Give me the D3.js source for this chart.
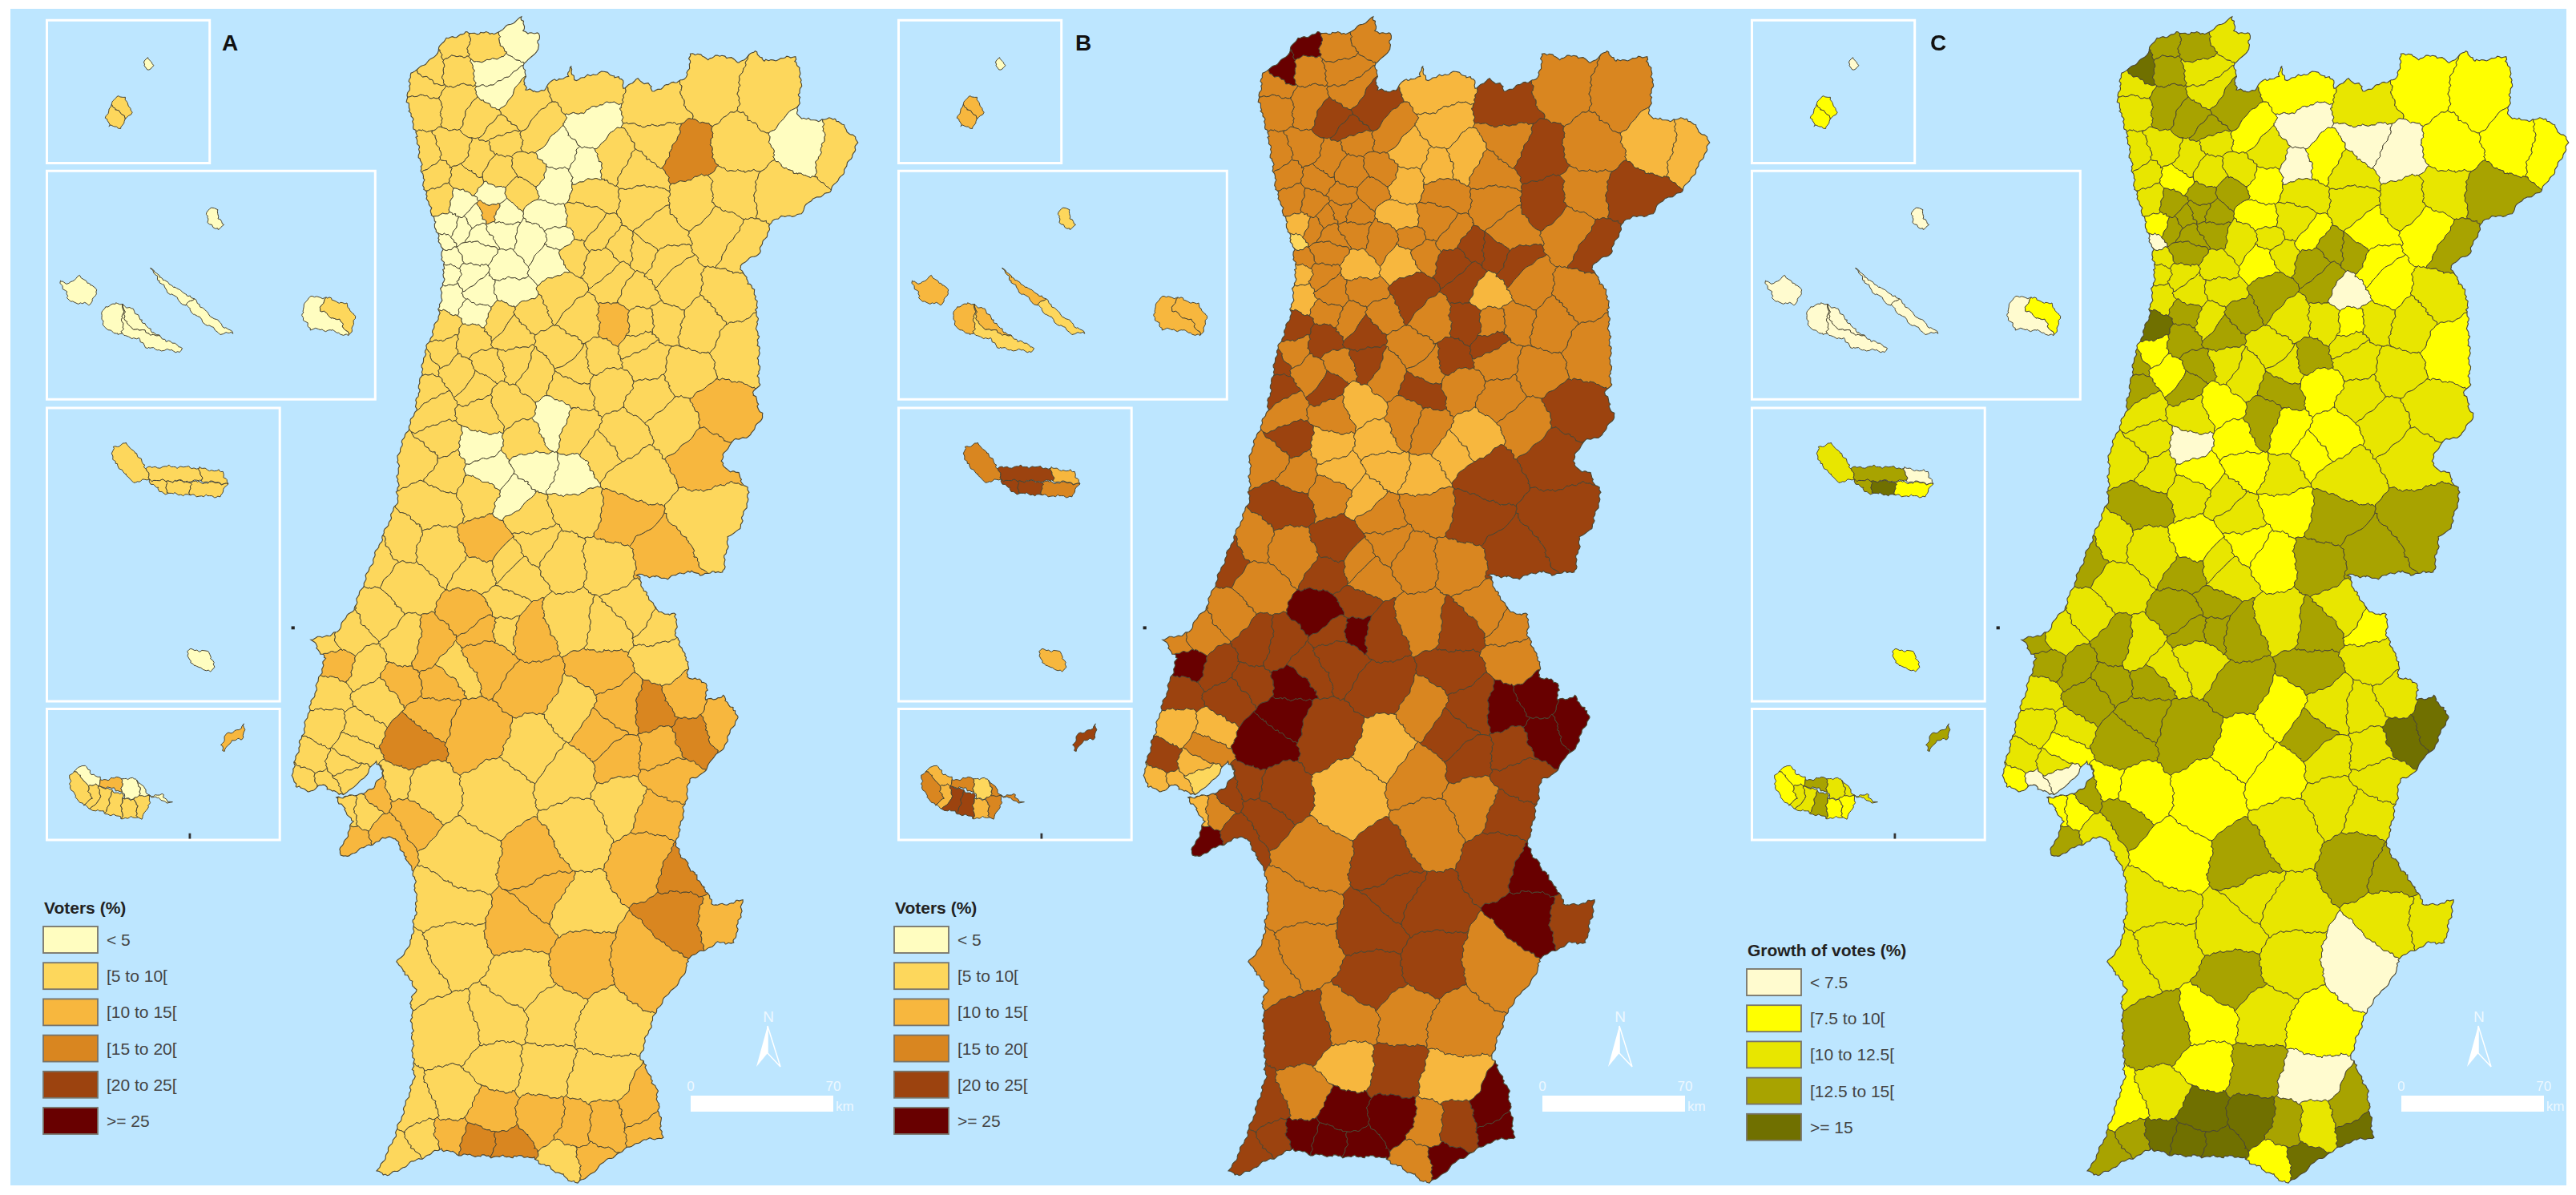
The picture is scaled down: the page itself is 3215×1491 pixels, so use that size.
<!DOCTYPE html>
<html>
<head>
<meta charset="utf-8">
<script src="https://d3js.org/d3.v7.min.js"></script>
<style>
  html, body { margin: 0; background: #fff; }
  svg { display: block; filter: blur(0.6px); }
  text { font-family: "Liberation Sans", Arial, sans-serif; }
</style>
</head>
<body>
<svg id="chart" width="3215" height="1491"></svg>
<script>
// legend classes
const voterBreaks = [5, 10, 15, 20, 25];
const voterLabels = ['< 5', '[5 to 10[', '[10 to 15[', '[15 to 20[', '[20 to 25[', '>= 25'];
const voterColors = ['#FFFDC0', '#FDD75C', '#F7B73E', '#D98620', '#9C430F', '#680000'];
const growthBreaks = [7.5, 10, 12.5, 15];
const growthLabels = ['< 7.5', '[7.5 to 10[', '[10 to 12.5[', '[12.5 to 15[', '>= 15'];
const growthColors = ['#FFFBCF', '#FFFF00', '#E8E600', '#A8A300', '#707000'];

// municipalities, north to south: map position of each seat and the three readings
const seatX = [
  935,880,822,785,830,765,885,900,
  825,770,880,945,900,1060,1070,1190,
  1290,1390,1455,1520,1340,1185,1250,1110,
  1015,975,910,870,815,770,960,905,850,790,795,1000,1060,
  1160,1160,1260,1325,1420,1300,1350,1195,1080,990,940,885,835,1060,860,915,885,
  810,805,840,910,870,860,810,960,1010,1090,1090,1130,1160,1200,920,1000,1040,
  810,850,820,870,930,860,1015,1110,1160,1230,1310,1340,1270,1200,1110,1160,1060,960,900,795,800,860,
  770,770,830,860,885,930,930,970,1010,1050,1090,1040,1100,1170,1160,1240,1180,1300,1275,1220,1125,1150,1130,1190,1285,
  860,885,1000,1050,925,870,790,760,800,810,960,975,1030,1090,930,870,790,720,690,880,960,970,1040,940,1020,1100,800,870,920,740,
  680,605,585,640,665,600,680,730,780,730,825,880,915,860,960,970,785,795,860,745,1100,1195,1150,1030,880,905,
  590,650,570,550,590,625,620,640,635,660,645,690,690,740,770,720,
  840,810,820,750,820,950,950,905,1000,980,905,1100,1050,1170,990,1040,970,1230,1310,1240,1170,1190,900,1050,975,1030,1090,1030,1120,1130,1250,1305,1240,1190,1200,1125,1090,1210,1200,
  755,725,770,820,815,860,890,925,985,1040,1030,1065,1100,1090,1160,1175
];
const seatY = [
  85,115,125,170,180,215,185,235,
  265,285,305,280,335,240,320,270,
  220,250,370,380,380,370,400,410,
  395,335,365,410,390,400,440,445,465,455,510,470,430,
  530,440,520,490,500,600,640,600,500,560,500,540,530,575,565,545,500,
  580,615,590,590,610,650,660,620,620,610,680,640,650,680,690,670,650,
  705,705,770,750,750,800,760,720,755,730,760,900,830,830,830,840,820,810,820,840,900,880,
  940,1000,960,1000,940,860,930,960,900,950,930,1000,990,920,880,960,1020,1060,1170,1090,1130,1220,1340,1430,1340,
  1150,1220,1090,1110,1040,1060,1060,1180,1130,1210,1130,1210,1230,1160,1280,1270,1300,1400,1430,1395,1330,1400,1310,1480,1440,1450,1420,1480,1450,1500,
  1587,1707,1652,1627,1722,1790,1797,1667,1677,1752,1722,1690,1620,1575,1630,1767,1830,1762,1887,1917,1630,1610,1570,1600,1625,1555,
  1867,1877,1955,2017,2017,1997,1967,1927,2087,2087,2167,2147,2047,2087,2037,2027,
  2217,2327,2437,2487,2657,2387,2517,2637,2617,2757,2737,2647,2467,2477,2307,2337,2217,2357,2357,2247,2217,2087,2047,2137,1917,1827,1897,1987,1947,2067,1887,1847,1797,1827,1697,1817,1717,2007,1927,
  2860,2967,2925,2837,2917,2947,2867,2957,2887,2907,2987,2987,2897,2777,2857,2910
];
const votersA = [
  3,7,7,7,7,7,3,3,
  7,7,7,7,7,7,3,7,
  7,7,3,7,7,7,17,7,
  3,7,7,7,7,7,7,7,7,7,7,3,3,
  7,7,7,7,7,7,7,7,7,3,7,12,3,7,3,3,3,
  3,3,3,3,3,3,3,3,3,7,7,7,7,7,3,3,7,
  3,3,3,3,3,3,7,7,7,7,7,7,7,7,12,7,7,7,7,7,7,7,
  7,7,7,7,7,7,7,7,7,7,7,7,7,7,7,7,7,12,12,7,7,7,12,12,7,
  3,3,3,7,7,7,7,7,7,7,7,3,3,7,3,7,7,7,7,12,7,7,7,7,7,7,7,7,7,7,
  7,12,7,7,7,7,7,7,12,12,7,12,7,12,12,12,12,12,12,17,7,7,7,7,12,7,
  7,7,7,7,7,7,7,7,7,7,12,12,12,12,7,7,
  7,7,7,7,7,12,7,7,7,7,7,7,12,12,12,7,12,17,12,17,12,12,7,7,7,7,12,7,12,7,17,12,12,17,7,12,12,12,12,
  7,7,7,7,12,17,12,17,12,12,7,12,12,7,12,12
];
const votersB = [
  17,17,27,27,17,17,17,17,
  17,17,22,22,22,12,12,22,
  17,17,12,12,17,17,22,12,
  12,17,17,17,17,17,17,17,17,17,17,12,12,
  17,17,22,17,22,17,22,17,17,12,17,17,17,17,17,17,17,
  12,7,17,17,17,17,17,17,17,17,22,22,22,22,12,12,17,
  12,17,12,17,17,17,22,22,12,17,17,17,17,17,22,17,17,17,17,22,17,22,
  22,22,17,22,17,22,22,17,17,17,22,22,17,17,22,17,17,22,22,17,12,22,22,22,22,
  12,12,17,17,12,17,17,17,22,17,12,12,12,12,12,17,22,17,22,22,17,17,17,17,17,17,17,22,17,17,
  17,27,17,17,22,22,22,22,22,22,22,22,27,27,22,22,27,27,22,27,22,17,17,17,22,22,
  12,12,22,12,12,7,12,17,12,17,27,22,22,22,22,22,
  17,17,17,17,22,22,22,17,17,22,12,17,22,17,22,22,22,27,22,27,22,22,12,17,12,17,22,17,22,17,27,27,27,27,17,22,22,22,22,
  22,22,22,17,27,27,27,27,27,17,17,27,22,12,27,27
];
const growthC = [
  11,14,14,16,14,11,11,11,
  14,11,14,14,14,9,6,11,
  9,9,9,9,9,6,6,9,
  11,9,11,11,11,11,11,11,9,11,11,9,6,
  11,11,11,11,14,9,14,9,11,9,14,14,14,11,14,14,14,
  9,6,14,14,14,14,11,11,11,9,14,14,14,9,11,9,11,
  11,11,11,11,11,14,14,14,6,9,11,9,11,11,11,9,11,14,11,16,9,14,
  14,14,9,14,14,14,11,11,11,11,14,14,9,11,11,11,11,11,11,11,9,11,14,14,14,
  6,9,14,9,9,11,11,11,11,11,9,9,11,9,11,11,14,11,14,9,11,9,9,11,9,14,11,14,11,11,
  11,14,14,11,14,11,14,14,11,14,11,11,14,14,14,14,14,14,14,14,14,9,11,11,14,14,
  11,11,11,9,6,6,11,9,9,9,14,11,14,14,9,9,
  9,11,11,11,14,11,14,9,11,14,9,9,11,6,11,11,14,11,11,14,14,11,9,11,9,9,14,9,11,11,16,16,11,11,11,11,14,11,11,
  9,14,14,11,16,16,16,16,16,14,9,16,11,6,14,16
];

// mainland coast and border
const mainland = [
  [945,42],[950,80],[978,90],[975,125],[950,165],[952,232],[985,235],[1005,205],[1030,200],[1035,172],[1040,205],
  [1095,185],[1128,205],[1128,225],[1155,205],[1175,215],[1182,235],[1245,200],[1252,135],[1285,152],[1310,142],
  [1340,160],[1370,132],[1385,158],[1440,145],[1452,200],[1445,300],[1475,310],[1515,305],[1555,365],[1530,440],
  [1505,495],[1475,510],[1450,550],[1400,565],[1375,650],[1340,685],[1370,760],[1372,830],[1375,900],[1375,990],
  [1365,1010],[1382,1075],[1360,1120],[1330,1135],[1310,1165],[1310,1205],[1335,1215],[1358,1270],[1340,1360],
  [1320,1385],[1310,1470],[1270,1478],[1245,1470],[1210,1488],[1155,1480],[1170,1527],[1195,1577],[1225,1582],
  [1225,1637],[1245,1697],[1247,1742],[1280,1757],[1280,1802],[1310,1792],[1337,1842],[1310,1927],[1270,1992],
  [1250,2007],[1240,2077],[1225,2177],[1232,2197],[1270,2272],[1295,2332],[1347,2317],[1330,2427],[1300,2427],
  [1245,2467],[1245,2497],[1190,2597],[1160,2717],[1190,2807],[1200,2927],[1160,2937],[1100,2987],[1045,3047],
  [1010,3017],[960,2977],[900,2977],[830,2972],[800,2957],[745,2992],[700,3027],[685,3012],[710,2942],[735,2847],
  [750,2777],[745,2567],[755,2547],[720,2477],[745,2427],[755,2327],[750,2247],[720,2167],[712,2152],[680,2167],
  [620,2207],[615,2197],[640,2117],[610,2052],[640,2049],[675,2030],[695,1995],[682,1958],[660,2000],[630,2040],
  [612,2044],[585,2020],[560,2037],[535,2022],[530,1987],[560,1827],[590,1697],[565,1647],[610,1627],[640,1568],
  [680,1430],[720,1290],[722,1170],[752,1060],[770,910],[795,810],[805,700],[800,640],[785,560],[770,490],[755,350],
  [738,260],[745,190],[790,140],[810,100],[845,85],[905,85],[945,42]
];

// island districts in their inset frames, with the same three readings
const islandParts = [
  [[262,160],[268,147],[276,158],[276,170],[264,178]],
  [[200,268],[212,245],[222,250],[235,270],[238,295],[228,305]],
  [[200,268],[228,305],[220,328],[198,325],[193,300]],
  [[380,535],[392,540],[405,585],[395,590],[380,578],[373,550]],
  [[107,725],[125,728],[145,712],[175,745],[165,785],[125,775],[118,745]],
  [[185,810],[190,790],[205,780],[222,785],[222,862],[195,850],[185,830]],
  [[222,785],[240,795],[265,840],[290,868],[230,838]],
  [[222,785],[230,838],[290,868],[330,895],[328,905],[290,900],[265,895],[255,875],[222,862]],
  [[273,690],[300,725],[352,770],[335,785],[300,745],[285,715]],
  [[352,770],[375,805],[422,858],[400,858],[370,830],[335,785]],
  [[548,790],[560,765],[590,765],[580,800],[620,830],[632,865],[600,850],[565,848],[550,825]],
  [[590,765],[630,785],[645,820],[632,865],[620,830],[580,800]],
  [[205,1150],[228,1140],[248,1170],[265,1205],[270,1235],[240,1240],[205,1185]],
  [[265,1205],[300,1200],[362,1205],[365,1238],[300,1238],[270,1235]],
  [[362,1205],[405,1215],[412,1245],[365,1238]],
  [[270,1235],[300,1238],[305,1270],[290,1265]],
  [[300,1238],[345,1240],[345,1275],[305,1270]],
  [[345,1240],[412,1245],[400,1278],[345,1275]],
  [[340,1677],[350,1672],[375,1677],[388,1702],[385,1727],[365,1722],[345,1705]],
  [[150,1970],[182,2007],[180,2022],[160,2022],[135,1982]],
  [[125,1997],[135,1982],[160,2022],[165,2057],[150,2072],[130,2037]],
  [[160,2022],[180,2022],[180,2057],[165,2082],[150,2072],[165,2057]],
  [[182,2007],[220,2002],[222,2037],[180,2022]],
  [[180,2022],[205,2037],[190,2092],[165,2082],[180,2057]],
  [[205,2037],[222,2042],[220,2105],[190,2092]],
  [[220,2002],[250,2007],[255,2052],[225,2057],[222,2037]],
  [[222,2057],[245,2057],[250,2105],[220,2105]],
  [[245,2052],[270,2047],[270,2077],[255,2105],[250,2105]],
  [[250,2007],[270,2047],[295,2047],[310,2067],[290,2057],[270,2047],[255,2052]],
  [[400,1917],[412,1887],[438,1877],[442,1865],[440,1902],[420,1907],[408,1932]]
];
const islandVotersA = [3,7,7,3,3,3,3,3,3,3,3,7,7,7,7,7,7,7,3,3,7,7,12,7,7,3,7,7,3,12];
const islandVotersB = [3,12,12,7,12,12,12,7,12,7,12,12,17,22,12,22,22,17,12,12,17,12,17,22,22,7,12,17,17,22];
const islandGrowthC = [6,9,9,6,6,6,6,6,6,6,6,9,11,14,6,14,16,9,9,9,9,11,14,11,14,11,9,9,11,14];

const insetFrames = [[85,52,380,420],[85,440,680,1028],[85,1050,507,1805],[85,1825,507,2162]];

const svg = d3.select('#chart');
svg.append('rect').attr('x', 13).attr('y', 11).attr('width', 3190).attr('height', 1468).attr('fill', '#BDE6FF');

// traced units to pixels, horizontal and vertical were read at different zooms
const xScale = d3.scaleLinear().domain([0, 1452]).range([0, 1000]);
const yScale = d3.scaleLinear().domain([0, 2063]).range([0, 1000]);
const toPx = p => [xScale(p[0]), yScale(p[1])];
const polyPath = pts => 'M' + pts.map(p => p.map(v => v.toFixed(1)).join(',')).join('L') + 'Z';

// municipal cells come from a voronoi of the seats, borders get a bend so they don't look ruled
const delaunay = d3.Delaunay.from(seatX.map((x, i) => toPx([x, seatY[i]])));
const voronoi = delaunay.voronoi([0, 0, 1100, 1491]);
const fine = ([x, y]) => [
  x + 0.9 * Math.sin(y * 0.83 + x * 0.41) + 1.1 * Math.sin(y * 0.31 + x * 0.17),
  y + 0.9 * Math.sin(x * 0.79 + y * 0.37) + 1.1 * Math.sin(x * 0.29 + y * 0.13)
];
const bend = p => {
  const [x, y] = fine(p);
  return [x + 3.2 * Math.sin(p[1] * 0.085 + p[0] * 0.03), y + 3.2 * Math.sin(p[0] * 0.08 - p[1] * 0.04)];
};
const wiggled = (poly, warp) => {
  const out = [];
  for (let i = 0; i < poly.length - 1; i++) {
    const a = poly[i], b = poly[i + 1];
    const n = Math.max(1, Math.round(Math.hypot(b[0] - a[0], b[1] - a[1]) / 2.5));
    for (let k = 0; k < n; k++) out.push(warp([a[0] + (b[0] - a[0]) * k / n, a[1] + (b[1] - a[1]) * k / n]));
  }
  return out;
};
const cellPaths = seatX.map((d, i) => polyPath(wiggled(voronoi.cellPolygon(i), bend)));
const mainlandPath = polyPath(wiggled(mainland.map(toPx), fine));
const islandPaths = islandParts.map(part => {
  const pts = part.map(toPx);
  return polyPath(wiggled(pts.concat([pts[0]]), fine));
});

svg.append('defs').append('clipPath').attr('id', 'mainland-clip').append('path').attr('d', mainlandPath);

const panels = [
  {name: 'A', values: votersA, island: islandVotersA, breaks: voterBreaks, colors: voterColors, labels: voterLabels, title: 'Voters (%)', mapDx: 0, insetDx: 0, legendDx: 0, legendY: 1156, nameX: 287},
  {name: 'B', values: votersB, island: islandVotersB, breaks: voterBreaks, colors: voterColors, labels: voterLabels, title: 'Voters (%)', mapDx: 1063, insetDx: 1063, legendDx: 1062, legendY: 1156, nameX: 1352},
  {name: 'C', values: growthC, island: islandGrowthC, breaks: growthBreaks, colors: growthColors, labels: growthLabels, title: 'Growth of votes (%)', mapDx: 2135, insetDx: 2128, legendDx: 2126, legendY: 1209, nameX: 2419}
];

panels.forEach(panel => {
  const color = d3.scaleThreshold().domain(panel.breaks).range(panel.colors);

  // mainland
  const map = svg.append('g').attr('transform', `translate(${panel.mapDx},0)`);
  map.append('g').attr('clip-path', 'url(#mainland-clip)')
    .selectAll('path')
    .data(cellPaths)
    .join('path')
    .attr('d', d => d)
    .attr('fill', (d, i) => color(panel.values[i]))
    .attr('stroke', '#4b4632')
    .attr('stroke-width', 1)
    .attr('stroke-linejoin', 'round');
  map.append('path').attr('d', mainlandPath).attr('fill', 'none').attr('stroke', '#4b4632').attr('stroke-width', 1.1);

  // scale bar and north arrow
  const kmScale = d3.scaleLinear().domain([0, 70]).range([862, 1040]);
  map.append('rect').attr('x', kmScale(0)).attr('y', 1367).attr('width', kmScale(70) - kmScale(0)).attr('height', 20).attr('fill', '#fff');
  map.selectAll('.km-label')
    .data([0, 70])
    .join('text')
    .attr('x', d => kmScale(d))
    .attr('y', 1361)
    .attr('text-anchor', 'middle')
    .attr('font-size', 17)
    .attr('fill', '#eef8ff')
    .text(d => d);
  map.append('text').attr('x', 1043).attr('y', 1386).attr('font-size', 17).attr('fill', '#eef8ff').text('km');
  map.append('text').attr('x', 959).attr('y', 1275).attr('text-anchor', 'middle').attr('font-size', 19).attr('fill', '#eef8ff').text('N');
  map.append('path').attr('d', 'M958,1280L944,1331L958,1314Z').attr('fill', '#fff');
  map.append('path').attr('d', 'M958,1280L974,1331L958,1314Z').attr('fill', 'none').attr('stroke', '#fff').attr('stroke-width', 1.5);

  // insets
  const inset = svg.append('g').attr('transform', `translate(${panel.insetDx},0)`);
  inset.selectAll('.frame')
    .data(insetFrames)
    .join('path')
    .attr('d', d => polyPath([[d[0], d[1]], [d[2], d[1]], [d[2], d[3]], [d[0], d[3]]].map(toPx)))
    .attr('fill', 'none')
    .attr('stroke', '#fff')
    .attr('stroke-width', 3);
  inset.selectAll('.island')
    .data(islandPaths)
    .join('path')
    .attr('d', d => d)
    .attr('fill', (d, i) => color(panel.island[i]))
    .attr('stroke', '#4b4632')
    .attr('stroke-width', 1)
    .attr('stroke-linejoin', 'round');
  inset.append('path').attr('d', polyPath([[342,2145],[346,2145],[346,2159],[342,2159]].map(toPx))).attr('fill', '#333');
  inset.append('path').attr('d', polyPath([[528,1612],[534,1612],[534,1620],[528,1620]].map(toPx))).attr('fill', '#222');

  svg.append('text').attr('x', panel.nameX).attr('y', 63).attr('text-anchor', 'middle')
    .attr('font-size', 28).attr('font-weight', 'bold').attr('fill', '#111').text(panel.name);

  // legend
  const legend = svg.append('g').attr('transform', `translate(${54 + panel.legendDx},${panel.legendY})`);
  legend.append('text').attr('x', 1).attr('y', -16).attr('font-size', 21).attr('font-weight', 'bold').attr('fill', '#222').text(panel.title);
  const rowScale = d3.scalePoint().domain(panel.labels).range([0, 45.2 * (panel.labels.length - 1)]);
  const row = legend.selectAll('.row').data(panel.labels).join('g')
    .attr('transform', d => `translate(0,${rowScale(d)})`);
  row.append('rect').attr('width', 68).attr('height', 33)
    .attr('fill', (d, i) => panel.colors[i])
    .attr('stroke', '#77746a').attr('stroke-width', 1.8);
  row.append('text').attr('x', 79).attr('y', 24).attr('font-size', 21).attr('fill', '#444').text(d => d);
});
</script>
</body>
</html>
